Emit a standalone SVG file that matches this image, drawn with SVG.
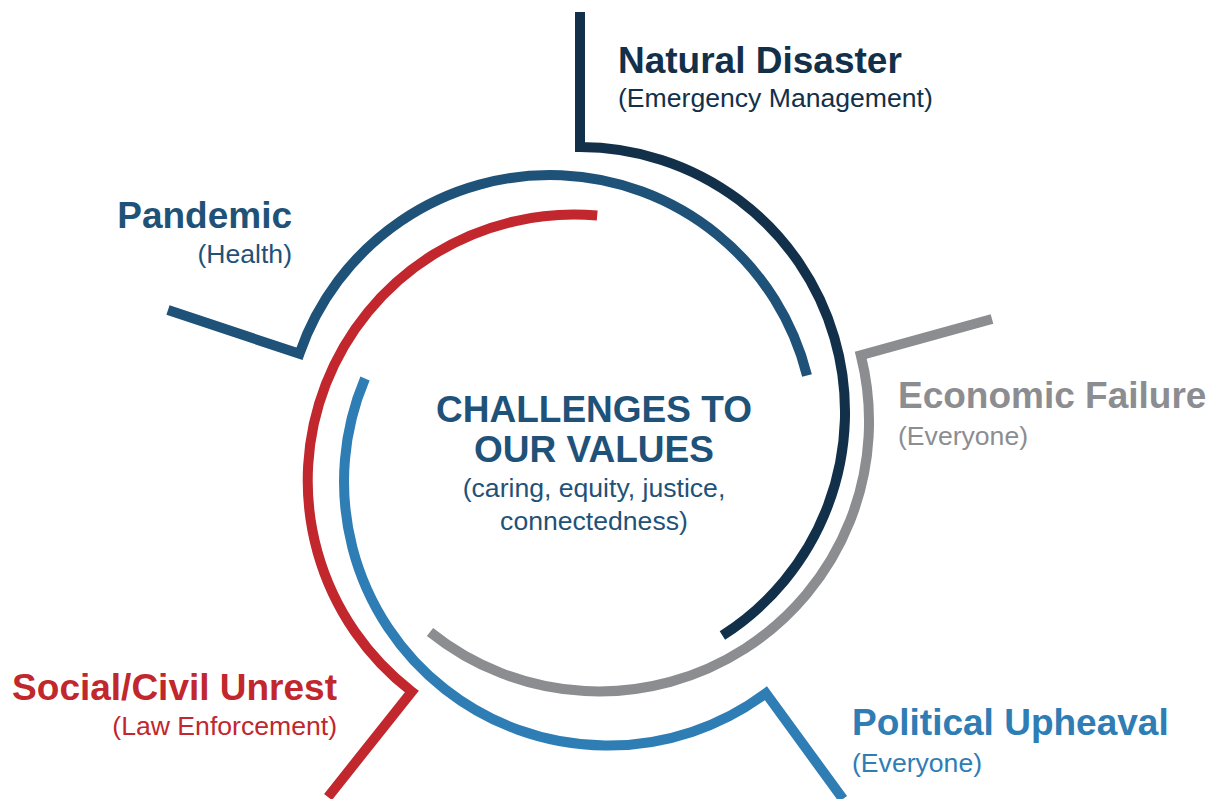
<svg xmlns="http://www.w3.org/2000/svg" width="1218" height="799" viewBox="0 0 1218 799">
<style>
.arc{fill:none;stroke-width:10;stroke-linejoin:miter;stroke-linecap:butt;stroke-miterlimit:10}
.t{font-family:"Liberation Sans",Arial,sans-serif;font-weight:bold;font-size:37px}
.s{font-family:"Liberation Sans",Arial,sans-serif;font-size:26.6px}
</style>
<rect width="1218" height="799" fill="#ffffff"/>
<g id="connectors">
<path class="arc" stroke="#12304a" d="M580,12 V147 A265,265 0 0 1 722.4,635.5"/>
<path class="arc" stroke="#1f5278" d="M168,310 L299.4,353.8 A265,265 0 0 1 807,375.5"/>
<path class="arc" stroke="#c1272d" d="M597.2,215.6 A266,266 0 0 0 411.8,691.6 L328,797"/>
<path class="arc" stroke="#2e7db5" d="M365,378.5 A264,264 0 0 0 765.9,693.2 L843,799"/>
<path class="arc" stroke="#8c8d91" d="M430,632 A270,270 0 0 0 860.8,355.3 L992,319"/>
</g>
<g id="center">
<text class="t" x="594" y="422" text-anchor="middle" fill="#1f5278">CHALLENGES TO</text>
<text class="t" x="594" y="462" text-anchor="middle" fill="#1f5278">OUR VALUES</text>
<text class="s" x="594" y="497" text-anchor="middle" fill="#1f5278">(caring, equity, justice,</text>
<text class="s" x="594" y="530" text-anchor="middle" fill="#1f5278">connectedness)</text>
</g>
<g id="natural-disaster">
<text class="t" x="618" y="73" fill="#12304a">Natural Disaster</text>
<text class="s" x="618" y="107" fill="#12304a">(Emergency Management)</text>
</g>
<g id="pandemic">
<text class="t" x="292" y="228" text-anchor="end" fill="#1f5278">Pandemic</text>
<text class="s" x="292" y="263" text-anchor="end" fill="#1f5278">(Health)</text>
</g>
<g id="economic-failure">
<text class="t" x="898" y="408" fill="#8c8d91">Economic Failure</text>
<text class="s" x="898" y="445" fill="#8c8d91">(Everyone)</text>
</g>
<g id="political-upheaval">
<text class="t" x="852" y="735" fill="#2e7db5">Political Upheaval</text>
<text class="s" x="852" y="772" fill="#2e7db5">(Everyone)</text>
</g>
<g id="social-civil-unrest">
<text class="t" x="337" y="700" text-anchor="end" fill="#c1272d">Social/Civil Unrest</text>
<text class="s" x="337" y="735" text-anchor="end" fill="#c1272d">(Law Enforcement)</text>
</g>
</svg>
